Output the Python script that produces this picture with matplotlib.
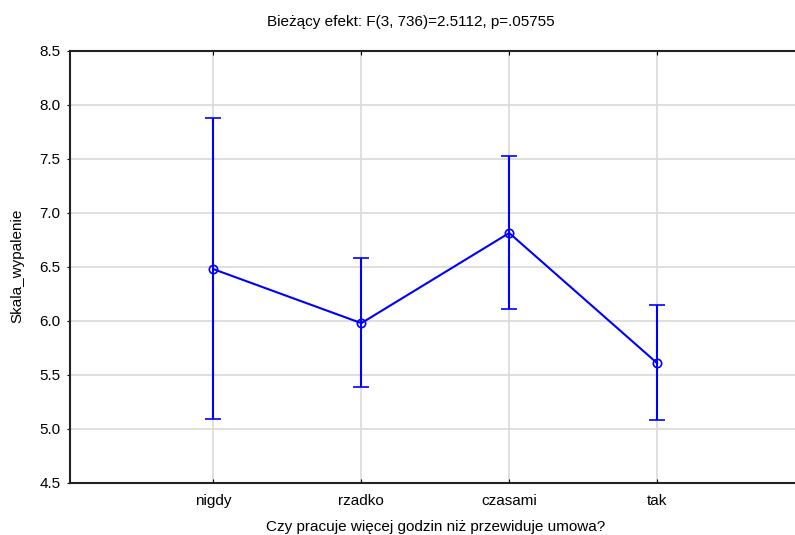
import matplotlib
matplotlib.use("Agg")
import matplotlib.pyplot as plt

plt.rcParams['font.family'] = ['Liberation Sans', 'DejaVu Sans']

categories = ["nigdy", "rzadko", "czasami", "tak"]
means = [6.48, 5.98, 6.815, 5.61]
upper = [7.88, 6.58, 7.53, 6.15]
lower = [5.09, 5.39, 6.11, 5.08]
yticks = [4.5, 5.0, 5.5, 6.0, 6.5, 7.0, 7.5, 8.0, 8.5]
title = "Bieżący efekt: F(3, 736)=2.5112, p=.05755"
xlabel = "Czy pracuje więcej godzin niż przewiduje umowa?"
ylabel = "Skala_wypalenie"

W, H = 795, 535
fig = plt.figure(figsize=(W / 100, H / 100), dpi=100)
ax = fig.add_axes([70 / W, (H - 483) / H, (805 - 70) / W, 432 / H])

x = list(range(1, len(categories) + 1))
yerr = [[m - l for m, l in zip(means, lower)], [u - m for m, u in zip(means, upper)]]
ax.errorbar(x, means, yerr=yerr, color='#0000ff', lw=1.5, elinewidth=1.5,
            capsize=5.5, capthick=1.5, marker='o', markersize=6,
            markerfacecolor='none', markeredgecolor='#0000ff', markeredgewidth=1.2, zorder=3)

ax.set_xlim(0.03, 5.0)
ax.set_ylim(4.5, 8.5)
ax.set_yticks(yticks)
ax.set_yticklabels([f"{v:.1f}" for v in yticks])
ax.set_xticks(x)
ax.set_xticklabels(categories)
ax.grid(True, color='#dcdcdc', lw=1.3, zorder=0)
ax.set_axisbelow(True)
for s in ['left', 'top', 'bottom']:
    ax.spines[s].set_linewidth(1.5)
    ax.spines[s].set_color('#222222')
ax.spines['right'].set_visible(False)
ax.tick_params(axis='x', direction='in', length=3, top=True, labelsize=11, pad=8)
ax.tick_params(axis='y', direction='out', length=2, labelsize=11, pad=5)

fig.text(411 / W, 1 - 26 / H, title, ha='center', va='baseline', fontsize=11)
fig.text(436 / W, 1 - 531 / H, xlabel, ha='center', va='baseline', fontsize=11)
fig.text(17 / W, 1 - 266 / H, ylabel, ha='center', va='center', rotation=90, fontsize=11)

fig.savefig("out.png", dpi=100)
